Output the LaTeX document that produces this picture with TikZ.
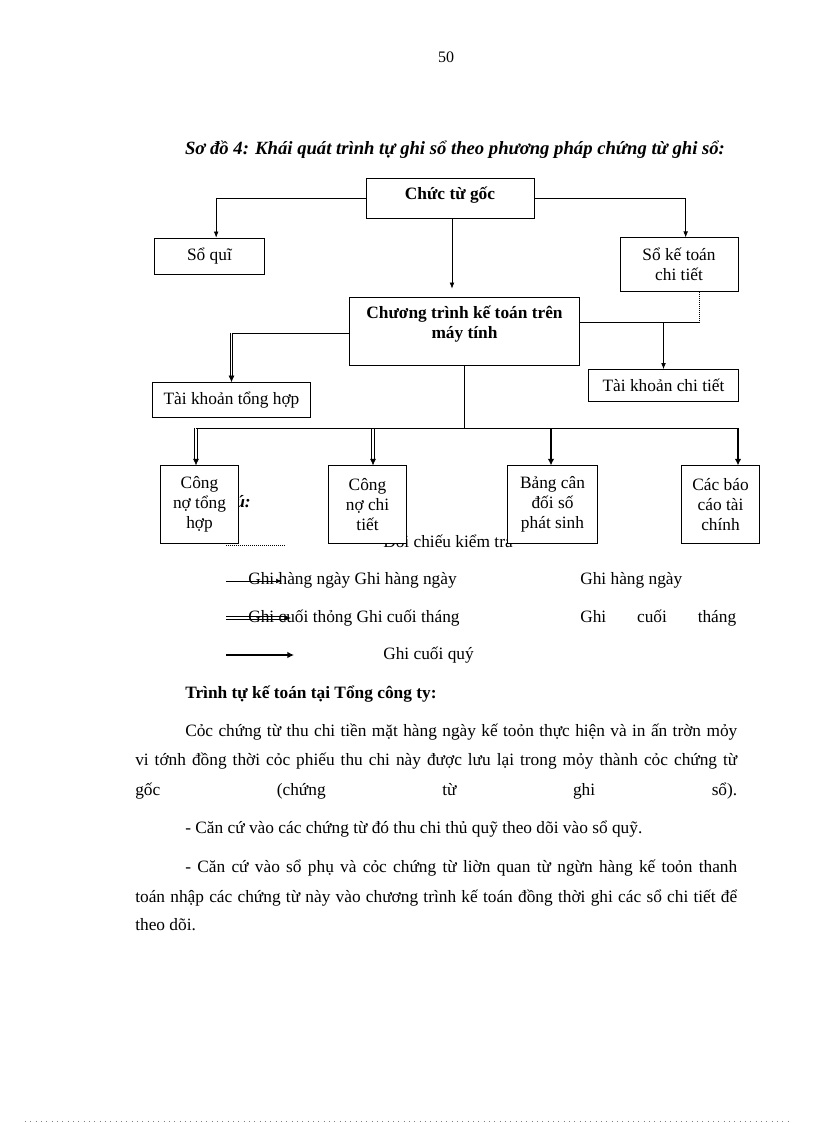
\documentclass[tikz,border=0pt]{standalone}
\usepackage{fontspec}
\setmainfont{Liberation Serif}
\usetikzlibrary{arrows.meta, calc}

\begin{document}
\begin{tikzpicture}[x=0.75pt, y=-0.75pt,
        font=\fontsize{13}{15}\selectfont,
        box/.style={draw, fill=white, line width=0.6pt, inner sep=0pt, align=center},
        txt/.style={inner sep=0pt, anchor=base west},
        ln/.style={line width=0.5pt},
        arr/.style={line width=0.5pt, -{Latex[length=4.5pt,width=3.5pt]}},
        dbl/.style={double, line width=0.6pt, double distance=1.4pt, shorten >=3.5pt},
        dtip/.style={line width=0.5pt, -{Latex[length=5pt,width=4.5pt]}},
        thk/.style={line width=1.8pt, -{Latex[length=5pt,width=5pt]}},
        dot/.style={line width=0.5pt, dash pattern=on 0.6pt off 0.9pt}]
        \useasboundingbox (0,0) rectangle (816,1123);
        \fill[white] (0,0) rectangle (816,1123);

        \node (pg) [inner sep=0pt, anchor=base, font=\fontsize{12}{14}\selectfont] at (446,63) {50};
        \node (title) [inner sep=0pt, anchor=base, font=\fontsize{14}{16}\selectfont\bfseries\itshape] at (455,155)
            {Sơ đồ 4: Khái quát trình tự ghi sổ theo phương pháp chứng từ ghi sổ:};

        % legend text sits under the boxes
        \node (note) [inner sep=0pt, anchor=base east, font=\fontsize{13}{15}\selectfont\bfseries\itshape] at (251,507) {Ghi chú:};
        \node (t1) [txt] at (383,547) {Đối chiếu kiểm tra};

        \node (ctg) [box, minimum width=126pt, minimum height=30pt, text depth=7pt, font=\fontsize{13}{15}\selectfont\bfseries] at (450,198) {Chức từ gốc};
        \node (soquy) [box, minimum width=82pt, minimum height=27pt] at (209.5,256) {Sổ quĩ};
        \node (sktct) [box, minimum width=88.5pt, minimum height=40pt] at (679,264.5) {Sổ kế toán\\chi tiết};
        \node (ctkt) [box, minimum width=172pt, minimum height=51pt, text depth=13pt, font=\fontsize{13}{15}\selectfont\bfseries] at (464.5,331) {Chương trình kế toán trên\\máy tính};
        \node (tkth) [box, minimum width=119pt, minimum height=26pt] at (231.5,400) {Tài khoản tổng hợp};
        \node (tkct) [box, minimum width=112pt, minimum height=24pt] at (663.5,385.5) {Tài khoản chi tiết};

        \node (cnth) [box, minimum width=59pt, minimum height=58pt] at (199.5,504.5) {Công\\nợ tổng\\hợp};
        \node (cnct) [box, minimum width=59pt, minimum height=58pt] at (367.5,504.5) {Công\\nợ chi\\tiết};
        \node (bcd) [box, minimum width=67pt, minimum height=58pt] at (552.5,504.5) {Bảng cân\\đối số\\phát sinh};
        \node (bctc) [box, minimum width=59pt, minimum height=58pt] at (720.5,504.5) {Các báo\\cáo tài\\chính};

        % top level
        \draw[arr] (ctg.west) -| ([xshift=5pt]soquy.north);
        \draw[arr] (ctg.east) -| ([xshift=5pt]sktct.north);
        \draw[arr, shorten >=6pt] ([xshift=1.5pt]ctg.south) -- ([xshift=1.5pt]ctg.south |- ctkt.north);

        % right branch
        \coordinate (j1) at (699,322);
        \draw[dot] (j1 |- sktct.south) -- (j1);
        \draw[ln] (j1) -- (j1 -| ctkt.east);
        \draw[arr] (j1 -| tkct.north) -- (tkct.north);

        % left branch
        \coordinate (j2) at (ctkt.west -| tkth.north);
        \draw[dbl] ([yshift=-1.5pt]j2) -- (tkth.north);
        \draw[dtip] ($(tkth.north)+(0,-6)$) -- (tkth.north);
        \draw[ln] ([yshift=-1.5pt]ctkt.west) -- ([yshift=-1.5pt]j2);

        % lower bus
        \coordinate (d1) at (196,428);
        \coordinate (d2) at (373,428);
        \coordinate (d3) at (551,428);
        \coordinate (d4) at (738,428);
        \draw[dbl] (d1) -- (d1 |- cnth.north);
        \draw[dtip] ($(d1 |- cnth.north)+(0,-6)$) -- (d1 |- cnth.north);
        \draw[dbl] (d2) -- (d2 |- cnct.north);
        \draw[dtip] ($(d2 |- cnct.north)+(0,-6)$) -- (d2 |- cnct.north);
        \draw[thk] (d3) -- (d3 |- bcd.north);
        \draw[thk] (d4) -- (d4 |- bctc.north);
        \draw[ln] (ctkt.south) -- (ctkt.south |- d1);
        \draw[ln] (d1) -- (d4);

        % legend
        \coordinate (l1a) at (226,545);
        \coordinate (l1b) at (285,545);
        \coordinate (l2a) at (226,581);
        \coordinate (l2b) at (282,581);
        \coordinate (l3a) at (226,618);
        \coordinate (l3b) at (291,618);
        \coordinate (l4a) at (226,655);
        \coordinate (l4b) at (294,655);
        \draw[dot] (l1a) -- (l1b);
        \draw[arr] (l2a) -- (l2b);
        \draw[dbl] (l3a) -- (l3b);
        \draw[dtip] ($(l3b)+(-6,0)$) -- (l3b);
        \draw[thk] (l4a) -- (l4b);

        \node (t2) [txt] at (248,584) {Ghi hàng ngày Ghi hàng ngày};
        \node (t2b) [txt] at (580,584) {Ghi hàng ngày};
        \node (t3) [txt] at (248,622) {Ghi cuối thỏng Ghi cuối tháng};
        \node (t3b) [txt] at (580,622) {\makebox[117pt][s]{Ghi cuối tháng}};
        \node (t4) [txt] at (383,659) {Ghi cuối quý};

        % text below the chart
        \node (h1) [txt, font=\fontsize{13}{15}\selectfont\bfseries] at (185,698) {Trình tự kế toán tại Tổng công ty:};
        \node (p1) [txt] at (185,736) {\makebox[414pt][s]{Cỏc chứng từ thu chi tiền mặt hàng ngày kế toỏn thực hiện và in ấn trờn mỏy}};
        \node (p2) [txt] at (135,765) {\makebox[451.5pt][s]{vi tớnh đồng thời cỏc phiếu thu chi này được lưu lại trong mỏy thành cỏc chứng từ}};
        \node (p3) [txt] at (135,795) {\makebox[451.5pt][s]{gốc (chứng từ ghi sổ).}};
        \node (p4) [txt] at (185,833) {- Căn cứ vào các chứng từ đó thu chi thủ quỹ theo dõi vào sổ quỹ.};
        \node (p5) [txt] at (185,872) {\makebox[414pt][s]{- Căn cứ vào sổ phụ và cỏc chứng từ liờn quan từ ngừn hàng kế toỏn thanh}};
        \node (p6) [txt] at (135,902) {\makebox[451.5pt][s]{toán nhập các chứng từ này vào chương trình kế toán đồng thời ghi các sổ chi tiết để}};
        \node (p7) [txt] at (135,930) {theo dõi.};

        \draw[gray, line width=0.4pt, dash pattern=on 0.4pt off 3.6pt] (25,1121) -- (791,1121);
\end{tikzpicture}
\end{document}
